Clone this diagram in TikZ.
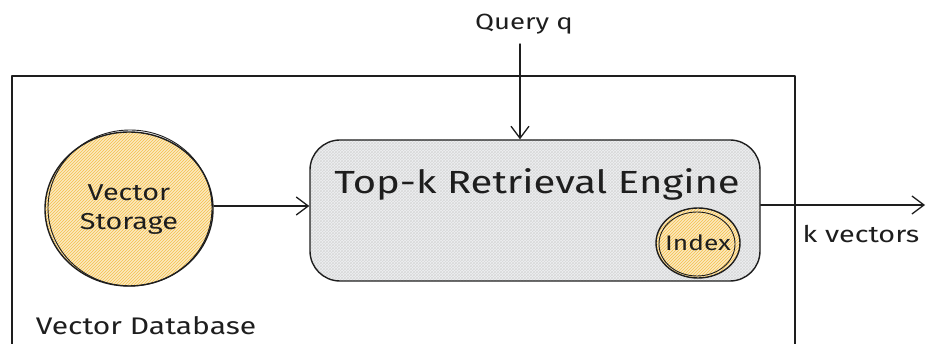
\documentclass[tikz,border=0pt]{standalone}
\usepackage{fontspec}
\setmainfont{Fira Sans}[FakeStretch=1.25]
\usetikzlibrary{arrows.meta,patterns}
\definecolor{ink}{HTML}{1E1E1E}
\definecolor{amber}{HTML}{F5C04A}
\definecolor{haze}{HTML}{EEF0F3}
\begin{document}
\begin{tikzpicture}[x=1pt,y=-1pt,
  line/.style={draw=ink,line width=1.4pt,line cap=round,line join=round},
  sketch/.style={draw=ink,line width=0.9pt},
  flow/.style={line,-{Straight Barb[length=12pt,width=18pt,line width=1.3pt]}},
  label/.style={text=ink,inner sep=0pt},
  amberfill/.style={preaction={fill=amber!35},pattern=north east lines,pattern color=amber},
  hazefill/.style={preaction={fill=haze},pattern=crosshatch,pattern color=gray!30},
]
\useasboundingbox (0,0) rectangle (928,344);

% database frame, open at the bottom
\draw[line] (12,350) -- (12,76) -- (795,76) -- (795,350);
\node[label,font=\fontsize{24}{28}\selectfont] (dbname) at (146,326) {Vector Database};

% storage
\draw[line,amberfill] (129,209) ellipse [x radius=84,y radius=77];
\draw[sketch] (130,208) ellipse [x radius=82,y radius=78];
\node[label,align=center,font=\fontsize{23}{29}\selectfont] (store) at (129,210) {Vector\\Storage};
\coordinate (storeE) at (214,206);

% engine
\node[line,hazefill,rounded corners=30pt,minimum width=450pt,minimum height=141pt] (engine) at (535,210.5) {};
\node[label,font=\fontsize{32}{38}\selectfont] (title) at (537,184) {Top-k Retrieval Engine};

% index, drawn with a doubled outline
\draw[line,amberfill] (698,243) ellipse [x radius=42,y radius=35];
\draw[sketch] (697,244) ellipse [x radius=38,y radius=32];
\node[label,font=\fontsize{21}{25}\selectfont] (index) at (698,243) {Index};

% query input
\node[label,font=\fontsize{22}{26}\selectfont] (query) at (524,24) {Query q};
\coordinate (qstart) at (520,44);
\draw[flow] (qstart) -- (engine.north -| qstart);

% storage to engine
\draw[flow] (storeE) -- (engine.west |- storeE);

% output
\coordinate (out) at (925,205);
\draw[flow] (engine.east |- out) -- (out);
\node[label,font=\fontsize{23}{27}\selectfont] (kvec) at (861,234) {k vectors};
\end{tikzpicture}
\end{document}
